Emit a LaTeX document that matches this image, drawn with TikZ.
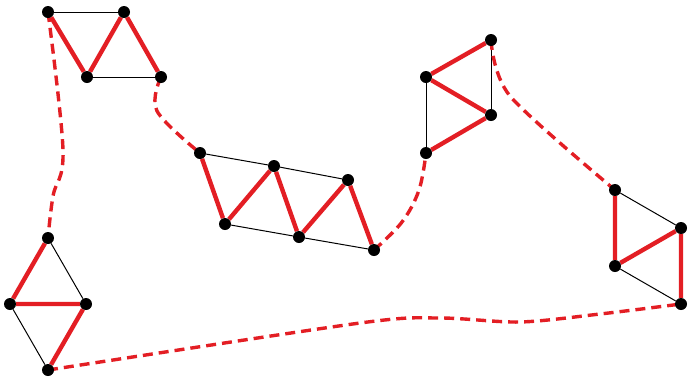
\documentclass[tikz,border=0pt]{standalone}
\usetikzlibrary{backgrounds}
\definecolor{trRed}{HTML}{E31E24}
\tikzset{
 truss/.style={x=1pt,y=-1pt,line join=round},
 joint/.style={circle,fill=black,inner sep=0pt,minimum size=12pt},
 bar/.style={draw=black,line width=1pt},
 member/.style={draw=trRed,line width=4.4pt},
 link/.style={draw=trRed,line width=3.4pt,dash pattern=on 10pt off 6pt}
}
\begin{document}
\begin{tikzpicture}[truss]
 \useasboundingbox (0,0) rectangle (688,376);
 % panel A
 \node[joint] (a1) at (48,12) {}; \node[joint] (a2) at (124,12) {};
 \node[joint] (a3) at (87,77) {}; \node[joint] (a4) at (161,77) {};
 % panel B
 \node[joint] (b1) at (200,153) {}; \node[joint] (b2) at (274,166) {};
 \node[joint] (b3) at (348,180) {}; \node[joint] (b4) at (225,224) {};
 \node[joint] (b5) at (299,237) {}; \node[joint] (b6) at (374,250) {};
 % panel C
 \node[joint] (c1) at (491,40) {}; \node[joint] (c2) at (426,77) {};
 \node[joint] (c3) at (491,115) {}; \node[joint] (c4) at (426,153) {};
 % panel D
 \node[joint] (d1) at (615,190) {}; \node[joint] (d2) at (681,228) {};
 \node[joint] (d3) at (615,266) {}; \node[joint] (d4) at (681,304) {};
 % panel E
 \node[joint] (e1) at (48,238) {}; \node[joint] (e2) at (10,304) {};
 \node[joint] (e3) at (86,304) {}; \node[joint] (e4) at (48,370) {};
 % bends of the links
 \coordinate (w1) at (63,150); \coordinate (w2) at (53,196);
 \coordinate (w3) at (157,111);
 \coordinate (w4) at (402,222); \coordinate (w5) at (419,190);
 \coordinate (w6) at (510,96);
 \coordinate (w7) at (360,323); \coordinate (w8) at (440,318);
 \coordinate (w9) at (520,322); \coordinate (w10) at (600,314);
 \begin{scope}[on background layer]
  \draw[bar] (a1)--(a2); \draw[bar] (a3)--(a4);
  \draw[member] (a1)--(a3)--(a2)--(a4);
  \draw[bar] (b1)--(b2)--(b3); \draw[bar] (b4)--(b5)--(b6);
  \draw[member] (b1)--(b4)--(b2)--(b5)--(b3)--(b6);
  \draw[bar] (c1)--(c3); \draw[bar] (c2)--(c4);
  \draw[member] (c1)--(c2)--(c3)--(c4);
  \draw[bar] (d1)--(d2); \draw[bar] (d3)--(d4);
  \draw[member] (d1)--(d3)--(d2)--(d4);
  \draw[bar] (e1)--(e3); \draw[bar] (e2)--(e4);
  \draw[member] (e1)--(e2)--(e3)--(e4);
  \draw[link] plot[smooth,tension=.6] coordinates {(a1.center) (w1) (w2) (e1.center)};
  \draw[link] plot[smooth,tension=.6] coordinates {(a4.center) (w3) (b1.center)};
  \draw[link] plot[smooth,tension=.6] coordinates {(b6.center) (w4) (w5) (c4.center)};
  \draw[link] plot[smooth,tension=.5] coordinates {(c1.center) (w6) (d1.center)};
  \draw[link] plot[smooth,tension=.5] coordinates {(e4.center) (w7) (w8) (w9) (w10) (d4.center)};
 \end{scope}
\end{tikzpicture}
\end{document}
